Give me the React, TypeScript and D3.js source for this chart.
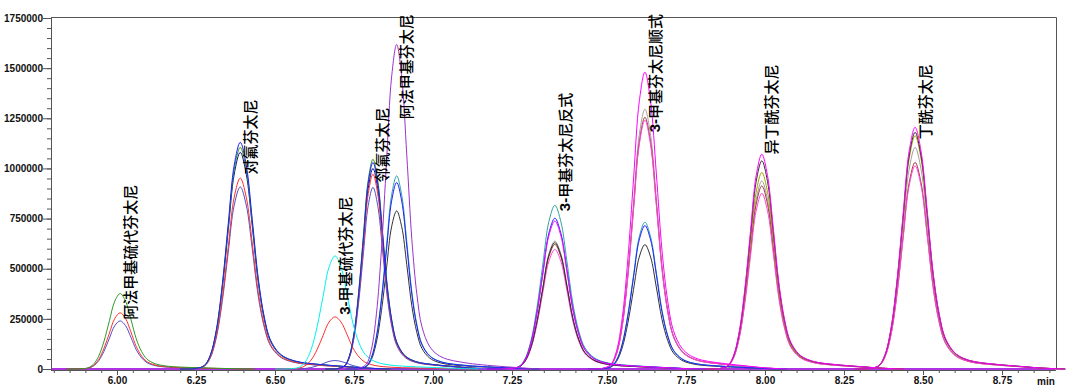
import React, { useEffect, useRef } from "react";
import * as d3 from "d3";

// compound peaks (retention time in min)
const peakNames = [
  "阿法甲基硫代芬太尼",
  "对氟芬太尼",
  "3-甲基硫代芬太尼",
  "邻氟芬太尼",
  "阿法甲基芬太尼",
  "3-甲基芬太尼反式",
  "3-甲基芬太尼顺式",
  "异丁酰芬太尼",
  "丁酰芬太尼",
];
const peakTimes = [6.01, 6.39, 6.69, 6.81, 6.885, 7.335, 7.62, 7.99, 8.475];
const peakWidths = [0.085, 0.095, 0.095, 0.075, 0.08, 0.095, 0.09, 0.09, 0.095];
// intensity where each peak label starts
const labelLevels = [245000, 970000, 270000, 930000, 1245000, 787000, 1180000, 1070000, 1145000];

// peak shape: offset in peak widths -> relative height
const profileOffsets = [-2, -1.5, -1.2, -1.0, -0.8, -0.6, -0.4, -0.2, 0, 0.2, 0.4, 0.6, 0.8, 1.0, 1.3, 1.6, 2.0, 2.5, 3.0, 3.6, 4.2, 5.0];
const profileShape = [0, 0.002, 0.015, 0.06, 0.17, 0.37, 0.64, 0.9, 1, 0.9, 0.66, 0.4, 0.23, 0.13, 0.07, 0.045, 0.03, 0.022, 0.016, 0.01, 0.004, 0];

// apex heights per trace at each peak (0 = no peak)
const gray = [0, 0, 0, 0, 0, 638000, 1295000, 938000, 1105000];
const brown = [0, 0, 0, 0, 0, 621000, 1255000, 913000, 1030000];
const olive = [0, 0, 0, 0, 0, 0, 0, 980000, 1163000];
const pink = [0, 0, 0, 0, 0, 596000, 1240000, 876000, 1013000];
const black = [0, 0, 0, 0, 788000, 630000, 620000, 1038000, 1180000];
const teal = [0, 0, 0, 0, 963000, 816000, 732000, 0, 0];
const navy = [0, 1080000, 0, 1000000, 0, 0, 0, 0, 0];
const slate = [240000, 908000, 42000, 906000, 0, 0, 0, 0, 0];
const red = [280000, 952000, 260000, 971000, 0, 0, 0, 0, 0];
const green = [376000, 1105000, 0, 1046000, 0, 0, 0, 0, 0];
const blue = [0, 1130000, 0, 1030000, 930000, 752000, 715000, 0, 0];
const cyan = [0, 0, 564000, 0, 0, 0, 0, 0, 0];
const purple = [0, 0, 0, 0, 1618000, 0, 0, 0, 0];
const magenta = [0, 0, 0, 0, 0, 738000, 1480000, 1071000, 1205000];

const traces = [
  { color: "#a0a0a0", heights: gray },
  { color: "#a23a3a", heights: brown },
  { color: "#a8a000", heights: olive },
  { color: "#ff44dd", heights: pink },
  { color: "#303030", heights: black },
  { color: "#2fa3a3", heights: teal },
  { color: "#101080", heights: navy },
  { color: "#5050c8", heights: slate },
  { color: "#ff3030", heights: red },
  { color: "#2a9a2a", heights: green },
  { color: "#2020ff", heights: blue },
  { color: "#00f0f0", heights: cyan },
  { color: "#9933cc", heights: purple },
  { color: "#ff00ff", heights: magenta },
];

const yTicks = [0, 250000, 500000, 750000, 1000000, 1250000, 1500000, 1750000];
// the printed axis is in two pieces (the 7.25 tick repeats once unlabelled)
const xTicksLeft = [6.0, 6.25, 6.5, 6.75, 7.0, 7.25];
const xTicksRight = [7.5, 7.75, 8.0, 8.25, 8.5, 8.75];

const W = 1080;
const H = 389;

export default function App() {
  const svgRef = useRef<SVGSVGElement | null>(null);

  useEffect(() => {
    if (!svgRef.current) return;
    const svg = d3.select(svgRef.current);
    svg.selectAll("*").remove();

    const left = 51;
    const right = 1056;
    const top = 17;
    const axisY = 370;

    const xL = d3.scaleLinear().domain([6.0, 7.25]).range([117, 512]);
    const xR = d3.scaleLinear().domain([7.5, 8.75]).range([607, 1002]);
    const x = d3
      .scaleLinear()
      .domain([5.791, 7.16, 7.2, 8.921])
      .range([xL(5.791), xL(7.16), xR(7.2), xR(8.921)]);
    const y = d3.scaleLinear().domain([0, 1750000]).range([369, 18]);

    svg.append("rect").attr("width", W).attr("height", H).attr("fill", "white");

    // frame
    svg
      .append("path")
      .attr("d", `M${left},${top}.5H${right}.5V${axisY}`)
      .attr("fill", "none")
      .attr("stroke", "#555")
      .attr("stroke-width", 1);

    const plot = svg.append("g");

    // baselines
    traces.forEach((tr) => {
      plot
        .append("line")
        .attr("x1", left + 1)
        .attr("x2", right - 1)
        .attr("y1", y(0))
        .attr("y2", y(0))
        .attr("stroke", tr.color)
        .attr("stroke-width", 1);
    });

    const line = d3
      .line<[number, number]>()
      .x((d) => x(d[0]))
      .y((d) => y(d[1]))
      .curve(d3.curveCatmullRom.alpha(0.5));

    traces.forEach((tr) => {
      tr.heights.forEach((h, i) => {
        if (!h) return;
        const pts = profileOffsets.map(
          (u, k) => [peakTimes[i] + u * peakWidths[i], h * profileShape[k]] as [number, number]
        );
        plot
          .append("path")
          .attr("d", line(pts))
          .attr("fill", "none")
          .attr("stroke", tr.color)
          .attr("stroke-width", 1);
      });
    });

    // peak labels, rotated
    const labels = svg
      .append("g")
      .attr("font-family", "'Noto Sans CJK SC', sans-serif")
      .attr("font-size", 15)
      .attr("font-weight", 500);
    peakNames.forEach((name, i) => {
      const lx = x(peakTimes[i]) + 9;
      const ly = y(labelLevels[i]);
      const t = labels
        .append("text")
        .attr("transform", `translate(${lx},${ly}) rotate(-90)`)
        .attr("dominant-baseline", "central")
        .attr("fill", "black");
      if (name.startsWith("3-")) {
        t.append("tspan")
          .attr("font-family", "'Liberation Sans', Arial, sans-serif")
          .attr("font-weight", "bold")
          .text("3-");
        t.append("tspan").text(name.slice(2));
      } else {
        t.text(name);
      }
    });

    // x axis
    const axisFont = "'Liberation Sans', Arial, sans-serif";
    const minorLeft = d3.range(0, 30).map((i) => 5.8 + i * 0.05);
    const minorRight = d3.range(0, 34).map((i) => 7.25 + i * 0.05);

    const xg = svg.append("g").attr("transform", `translate(0,${axisY})`);
    xg.append("path")
      .attr("d", `M${left},0.5H${right}`)
      .attr("stroke", "#555")
      .attr("fill", "none");

    const tickPart = (scale: d3.ScaleLinear<number, number>, minor: number[], major: number[]) => {
      const gMinor = xg.append("g").call(d3.axisBottom(scale).tickValues(minor).tickSize(3).tickFormat(() => ""));
      gMinor.select(".domain").remove();
      gMinor.selectAll("line").attr("stroke", "#555");
      const gMajor = xg.append("g").call(
        d3
          .axisBottom(scale)
          .tickValues(major)
          .tickSize(5)
          .tickPadding(2)
          .tickFormat((d) => d3.format(".2f")(d as number))
      );
      gMajor.select(".domain").remove();
      gMajor.selectAll("line").attr("stroke", "#555");
      gMajor
        .selectAll("text")
        .attr("font-family", axisFont)
        .attr("font-weight", "bold")
        .attr("font-size", 10)
        .attr("fill", "#111");
    };
    tickPart(xL, minorLeft, xTicksLeft);
    tickPart(xR, minorRight, xTicksRight);

    svg
      .append("text")
      .attr("x", 1046)
      .attr("y", 385)
      .attr("text-anchor", "middle")
      .attr("font-family", axisFont)
      .attr("font-weight", "bold")
      .attr("font-size", 10)
      .attr("fill", "#111")
      .text("min");

    // y axis
    const minorY = d3.range(0, 36).map((i) => i * 50000);
    const yMinor = svg
      .append("g")
      .attr("transform", `translate(${left},0)`)
      .call(d3.axisLeft(y).tickValues(minorY).tickSize(4).tickFormat(() => ""));
    yMinor.select(".domain").remove();
    yMinor.selectAll("line").attr("stroke", "#555");

    const yAxis = svg
      .append("g")
      .attr("transform", `translate(${left},0)`)
      .call(
        d3
          .axisLeft(y)
          .tickValues(yTicks)
          .tickSize(8)
          .tickPadding(0)
          .tickFormat((d) => String(d))
      );
    yAxis.select(".domain").attr("stroke", "#555").attr("d", `M0.5,${top}V${axisY}`);
    yAxis.selectAll("line").attr("stroke", "#555");
    yAxis
      .selectAll("text")
      .attr("font-family", axisFont)
      .attr("font-weight", "bold")
      .attr("font-size", 10)
      .attr("fill", "#111");
  }, []);

  return (
    <svg
      ref={svgRef}
      width={W}
      height={H}
      style={{ position: "absolute", left: 0, top: 0, display: "block" }}
    ></svg>
  );
}
